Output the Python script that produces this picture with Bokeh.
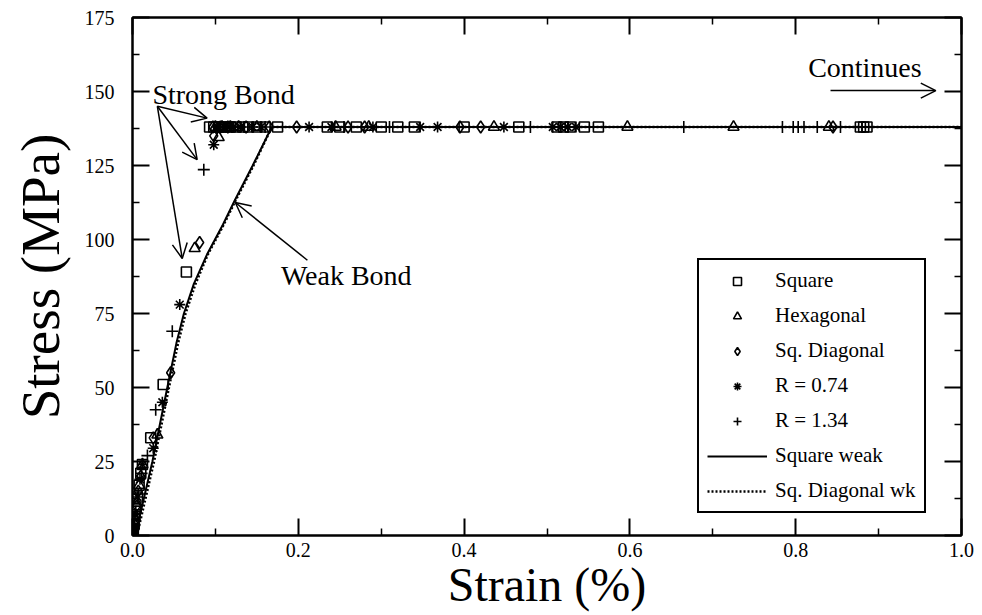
from bokeh.plotting import figure
from bokeh.models import (Range1d, FixedTicker, LinearAxis, Legend, LegendItem, Label,
                          Arrow, OpenHead, CustomJSTickFormatter, NumeralTickFormatter)
from bokeh.embed import file_html
from bokeh.resources import INLINE

# ---------------- data ----------------
x_ticks = [0.0, 0.2, 0.4, 0.6, 0.8, 1.0]
x_minor = [0.1, 0.3, 0.5, 0.7, 0.9]
y_ticks = [0, 25, 50, 75, 100, 125, 150, 175]
y_minor = [12.5, 37.5, 62.5, 87.5, 112.5, 137.5, 162.5]

square_strain = [0.0, 0.001, 0.002, 0.003, 0.004, 0.006, 0.008, 0.010, 0.012, 0.022, 0.037, 0.065,
                 0.093, 0.098, 0.104, 0.108, 0.112, 0.118, 0.125, 0.133, 0.140, 0.150,
                 0.160, 0.175, 0.235, 0.250, 0.270, 0.300, 0.320, 0.340, 0.400, 0.466,
                 0.512, 0.520, 0.528, 0.545, 0.562, 0.878, 0.882, 0.886]
square_stress = [0, 2, 4, 7, 9, 13, 17, 21, 24, 33, 51, 89,
                 138, 138, 138, 138, 138, 138, 138, 138, 138, 138,
                 138, 138, 138, 138, 138, 138, 138, 138, 138, 138,
                 138, 138, 138, 138, 138, 138, 138, 138]

hex_strain = [0.0, 0.001, 0.003, 0.005, 0.008, 0.012, 0.030, 0.075, 0.104,
              0.100, 0.108, 0.118, 0.128, 0.150, 0.245, 0.285, 0.436, 0.597, 0.725, 0.840]
hex_stress = [0, 3, 6, 11, 17, 24, 34, 97, 134.5,
              138, 138, 138, 138, 138, 138, 138, 138, 138, 138, 138]

diag_strain = [0.0, 0.001, 0.002, 0.005, 0.007, 0.010, 0.025, 0.046, 0.081, 0.098,
               0.097, 0.106, 0.115, 0.137, 0.165, 0.198, 0.260, 0.280, 0.395, 0.420, 0.845]
diag_stress = [0, 1, 4, 10, 15, 20, 33, 55, 99, 135,
               138, 138, 138, 138, 138, 138, 138, 138, 138, 138, 138]

r074_strain = [0.0, 0.002, 0.003, 0.006, 0.009, 0.012, 0.025, 0.036, 0.057, 0.098,
               0.102, 0.110, 0.115, 0.122, 0.130, 0.145, 0.155, 0.213, 0.240, 0.290,
               0.347, 0.368, 0.448, 0.507, 0.516, 0.525, 0.535]
r074_stress = [0, 3, 7, 13, 19, 24, 29.5, 45, 78, 132,
               138, 138, 138, 138, 138, 138, 138, 138, 138, 138,
               138, 138, 138, 138, 138, 138, 138]

r134_strain = [0.0, 0.002, 0.004, 0.007, 0.011, 0.018, 0.028, 0.048, 0.086,
               0.105, 0.120, 0.135, 0.160, 0.255, 0.310, 0.480, 0.665, 0.784, 0.797,
               0.803, 0.810, 0.826, 0.854, 0.880]
r134_stress = [0, 4, 8, 14, 21, 27, 42.5, 69, 123.6,
               138, 138, 138, 138, 138, 138, 138, 138, 138, 138,
               138, 138, 138, 138, 138]

weak_sq_strain = [0.0, 0.005, 0.024, 0.042, 0.053, 0.062, 0.074, 0.090, 0.109,
                  0.123, 0.145, 0.168, 1.0]
weak_sq_stress = [0, 2, 25, 50, 65, 75, 85, 95, 105, 113, 125, 138, 138]

weak_diag_strain = [0.0, 0.007, 0.026, 0.044, 0.055, 0.064, 0.076, 0.091, 0.110,
                    0.124, 0.146, 0.168, 1.0]
weak_diag_stress = [0, 2, 25, 50, 65, 75, 85, 95, 105, 113, 125, 138, 138]

legend_labels = ["Square", "Hexagonal", "Sq. Diagonal", "R = 0.74", "R = 1.34",
                 "Square weak", "Sq. Diagonal wk"]

FONT = "Liberation Serif"

# ---------------- figure ----------------
p = figure(width=982, height=615, output_backend="svg", toolbar_location=None,
           x_range=Range1d(0, 1), y_range=Range1d(0, 175),
           min_border_left=132, min_border_right=21, min_border_top=17,
           min_border_bottom=80)
p.grid.visible = False
p.outline_line_color = "black"
p.outline_line_width = 2
p.background_fill_color = "white"
p.border_fill_color = "white"

xt = FixedTicker(ticks=x_ticks, minor_ticks=x_minor)
yt = FixedTicker(ticks=y_ticks, minor_ticks=y_minor)


def style_axis(ax):
    ax.axis_line_color = "black"
    ax.axis_line_width = 2
    ax.major_tick_in = 17
    ax.major_tick_out = 0
    ax.minor_tick_in = 7
    ax.minor_tick_out = 0
    ax.major_tick_line_width = 2
    ax.minor_tick_line_width = 1.5
    ax.major_tick_line_color = "black"
    ax.minor_tick_line_color = "black"
    ax.major_label_text_font = FONT
    ax.major_label_text_font_size = "20px"
    ax.major_label_text_color = "black"
    ax.axis_label_text_font = FONT
    ax.axis_label_text_font_style = "normal"
    ax.axis_label_text_color = "black"


xa = p.xaxis[0]
xa.ticker = xt
xa.formatter = NumeralTickFormatter(format="0.0")
style_axis(xa)
xa.major_label_standoff = 7
xa.axis_label = "Strain (%)"
xa.axis_label_text_font_size = "48px"
xa.axis_label_standoff = -2

ya = p.yaxis[0]
ya.ticker = yt
style_axis(ya)
ya.major_label_standoff = 18
ya.axis_label = "Stress (MPa)"
ya.axis_label_text_font_size = "55px"
ya.axis_label_standoff = 11

blank = CustomJSTickFormatter(code="return ''")
top = LinearAxis(ticker=xt, formatter=blank)
style_axis(top)
top.major_label_standoff = 0
p.add_layout(top, "above")
right = LinearAxis(ticker=yt, formatter=blank)
style_axis(right)
right.major_label_standoff = 0
p.add_layout(right, "right")

# ---------------- data marks ----------------
mk = dict(fill_color=None, line_color="black", line_width=1.6)
r_weak_sq = p.line(weak_sq_strain, weak_sq_stress, line_color="black", line_width=2)
r_weak_diag = p.line(weak_diag_strain, weak_diag_stress, line_color="black",
                     line_width=2.5, line_dash="2 2")
r_sq = p.scatter(square_strain, square_stress, marker="square", size=10, **mk)
r_hex = p.scatter(hex_strain, hex_stress, marker="triangle", size=11, **mk)
r_diag = p.scatter(diag_strain, diag_stress, marker="diamond", size=12, **mk)
r_074 = p.scatter(r074_strain, r074_stress, marker="asterisk", size=11, **mk)
r_134 = p.scatter(r134_strain, r134_stress, marker="cross", size=12, **mk)

renderers = [r_sq, r_hex, r_diag, r_074, r_134, r_weak_sq, r_weak_diag]
legend = Legend(items=[LegendItem(label=l, renderers=[r]) for l, r in zip(legend_labels, renderers)],
                location=(565, 22), orientation="vertical",
                border_line_color="black", border_line_width=2, border_line_alpha=1,
                background_fill_color="white", background_fill_alpha=1,
                padding=8, spacing=10, margin=0,
                glyph_width=60, glyph_height=20, label_height=20, label_standoff=8,
                label_text_font=FONT, label_text_font_size="21px",
                label_text_color="black")
p.add_layout(legend, "center")

# ---------------- annotations ----------------
p.add_layout(Label(x=0.024, y=149, text="Strong Bond", text_font=FONT,
                   text_font_size="28px", text_baseline="middle", text_color="black"))
p.add_layout(Label(x=0.179, y=88, text="Weak Bond", text_font=FONT,
                   text_font_size="28px", text_baseline="middle", text_color="black"))
p.add_layout(Label(x=0.815, y=158, text="Continues", text_font=FONT,
                   text_font_size="28px", text_baseline="middle", text_color="black"))

for xs, ys, xe, ye in [(0.030, 145, 0.090, 141), (0.030, 145, 0.078, 127),
                       (0.030, 145, 0.060, 93.6), (0.211, 93, 0.124, 112.5),
                       (0.842, 150.3, 0.969, 150.3)]:
    p.add_layout(Arrow(end=OpenHead(size=15, line_width=1.5, line_color="black"),
                       x_start=xs, y_start=ys, x_end=xe, y_end=ye,
                       line_width=1.5, line_color="black"))

open("out.html", "w").write(file_html(p, INLINE))
